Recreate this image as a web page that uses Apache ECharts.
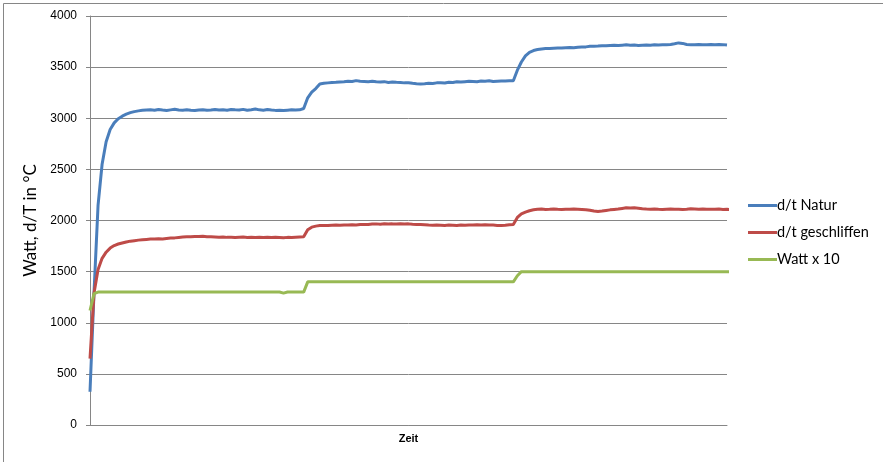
<!DOCTYPE html>
<html>
<head>
<meta charset="utf-8">
<script src="https://cdn.jsdelivr.net/npm/echarts@6/dist/echarts.min.js"></script>
<style>
html,body{margin:0;padding:0;background:#fff;}
#chart{width:883px;height:462px;}
</style>
</head>
<body>
<div id="chart"></div>
<script>
// Series names
const seriesNames = ["d/t Natur", "d/t geschliffen", "Watt x 10"];
// Y axis ticks
const yTicks = [0, 500, 1000, 1500, 2000, 2500, 3000, 3500, 4000];

// d/t Natur (160 samples over time)
const natur = [
  325, 1300, 2150, 2550, 2770, 2890, 2955, 2995, 3020, 3040, 3055, 3065, 3072, 3078,
  3080, 3082, 3078, 3085, 3080, 3076, 3082, 3088, 3080, 3079, 3083, 3078, 3075, 3080, 3084, 3079, 3081, 3086, 3080, 3083,
  3078, 3085, 3082, 3080, 3087, 3079, 3084, 3090, 3082, 3079, 3086, 3081, 3077, 3078, 3075, 3079, 3083, 3080, 3082,
  3095, 3200, 3255, 3290, 3335, 3342, 3346, 3350,
  3352, 3355, 3358, 3362, 3360, 3368, 3362, 3360, 3358, 3362, 3356, 3354, 3358, 3350, 3355, 3352, 3350, 3346, 3348, 3342,
  3338, 3335, 3338, 3342, 3340, 3346, 3348, 3345, 3352, 3350, 3356, 3354, 3358, 3362, 3360, 3358, 3364, 3362, 3366, 3360,
  3363, 3365, 3364, 3366, 3366,
  3470, 3550, 3610, 3645, 3662, 3672, 3678, 3681, 3683, 3685, 3687, 3686, 3690, 3692, 3689, 3694, 3696, 3698, 3704,
  3703, 3706, 3710, 3708, 3712, 3714, 3712, 3715, 3718, 3714, 3716, 3712, 3715, 3717, 3714, 3718, 3716, 3718, 3720, 3722,
  3728, 3737, 3732, 3722, 3720, 3718, 3722, 3720, 3719, 3721, 3718, 3722, 3720, 3716
];

// d/t geschliffen
const geschliffen = [
  650, 1290, 1520, 1630, 1690, 1730, 1755, 1770, 1780, 1790, 1798, 1803, 1808, 1812,
  1815, 1818, 1820, 1822, 1820, 1825, 1828, 1830, 1834, 1838, 1840, 1842, 1844, 1843, 1845, 1842, 1840, 1838, 1836, 1838,
  1835, 1836, 1834, 1836, 1838, 1834, 1835, 1833, 1836, 1834, 1835, 1833, 1836, 1834, 1832, 1835, 1833, 1836, 1838,
  1840, 1910, 1935, 1945, 1950, 1952, 1950, 1954,
  1955, 1953, 1957, 1955, 1958, 1956, 1960, 1962, 1960, 1965, 1967, 1964, 1968, 1966, 1967, 1965, 1968, 1966, 1967, 1964,
  1962, 1960, 1958, 1955, 1953, 1956, 1954, 1952, 1955, 1953, 1950, 1955, 1953, 1957, 1955, 1958, 1956, 1959, 1957, 1955,
  1952, 1950, 1953, 1958, 1962,
  2030, 2065, 2082, 2095, 2105, 2110, 2112, 2108, 2110, 2113, 2110, 2108, 2111, 2109, 2112, 2110, 2108, 2106, 2100, 2092,
  2088, 2092, 2098, 2104, 2108, 2112, 2118, 2124, 2122, 2124, 2120, 2115, 2112, 2110, 2113, 2110, 2108, 2110, 2112, 2109,
  2111, 2108, 2110, 2114, 2112, 2110, 2113, 2109, 2111, 2110, 2112, 2108, 2110, 2106
];

// Watt x 10
const watt = [
  1120, 1285,
  1300, 1300, 1300, 1300, 1300, 1300, 1300, 1300, 1300, 1300, 1300, 1300, 1300, 1300, 1300, 1300, 1300, 1300, 1300, 1300,
  1300, 1300, 1300, 1300, 1300, 1300, 1300, 1300, 1300, 1300, 1300, 1300, 1300, 1300, 1300, 1300, 1300, 1300, 1300, 1300,
  1300, 1300, 1300, 1300, 1300, 1300,
  1290, 1300, 1300, 1300, 1300, 1300,
  1400, 1400, 1400, 1400, 1400, 1400, 1400, 1400, 1400, 1400, 1400, 1400, 1400, 1400, 1400, 1400, 1400, 1400, 1400, 1400,
  1400, 1400, 1400, 1400, 1400, 1400, 1400, 1400, 1400, 1400, 1400, 1400, 1400, 1400, 1400, 1400, 1400, 1400, 1400, 1400,
  1400, 1400, 1400, 1400, 1400, 1400, 1400, 1400, 1400, 1400, 1400, 1400,
  1460,
  1500, 1500, 1500, 1500, 1500, 1500, 1500, 1500, 1500, 1500, 1500, 1500, 1500, 1500, 1500, 1500, 1500, 1500, 1500, 1500,
  1500, 1500, 1500, 1500, 1500, 1500, 1500, 1500, 1500, 1500, 1500, 1500, 1500, 1500, 1500, 1500, 1500, 1500, 1500, 1500,
  1500, 1500, 1500, 1500, 1500, 1500, 1500, 1500, 1500, 1500, 1500, 1500, 1500
];

const categories = natur.map((_, i) => String(i + 1));

const colors = ["#4A7EBB", "#BE4B48", "#98B954"];
const chart = echarts.init(document.getElementById('chart'), null, {renderer: 'canvas'});
const mk = (name, data, color) => ({
  name, type: 'line', data, showSymbol: false, symbol: 'none', smooth: false,
  lineStyle: {color, width: 3}, itemStyle: {color}, animation: false
});
chart.setOption({
  animation: false,
  backgroundColor: '#ffffff',
  grid: {left: 90, right: 156, top: 16, bottom: 37, containLabel: false},
  graphic: [{
    type: 'rect', left: 1, top: 1, silent: true,
    shape: {x: 0, y: 0, width: 880, height: 459},
    style: {fill: 'none', stroke: '#868686', lineWidth: 1}
  }],
  xAxis: {
    type: 'category', data: categories, boundaryGap: false,
    name: 'Zeit', nameLocation: 'middle', nameGap: 8,
    nameTextStyle: {fontFamily: 'Liberation Sans', fontSize: 11, fontWeight: 'bold', color: '#000'},
    axisLine: {lineStyle: {color: '#868686', width: 1}},
    axisTick: {show: false}, axisLabel: {show: false}, splitLine: {show: false}
  },
  yAxis: {
    type: 'value', min: yTicks[0], max: yTicks[yTicks.length - 1], interval: 500,
    name: 'Watt, d/T in °C', nameLocation: 'middle', nameGap: 50, nameRotate: 90,
    nameTextStyle: {fontFamily: 'Lato', fontSize: 17, color: '#000'},
    axisLine: {show: true, lineStyle: {color: '#868686', width: 1}},
    axisTick: {show: true, length: 4, lineStyle: {color: '#868686'}},
    axisLabel: {fontFamily: 'Liberation Sans', fontSize: 12, color: '#000', margin: 13,
      formatter: v => String(v)},
    splitLine: {lineStyle: {color: '#868686', width: 1}}
  },
  legend: {
    orient: 'vertical', left: 743, top: 193,
    data: seriesNames, icon: 'rect', itemWidth: 29, itemHeight: 3, itemGap: 12,
    textStyle: {fontFamily: 'Lato', fontSize: 14.5, color: '#000', padding: [0, 0, 0, -5]}
  },
  series: [
    mk(seriesNames[0], natur, colors[0]),
    mk(seriesNames[1], geschliffen, colors[1]),
    mk(seriesNames[2], watt, colors[2])
  ]
});
</script>
</body>
</html>
